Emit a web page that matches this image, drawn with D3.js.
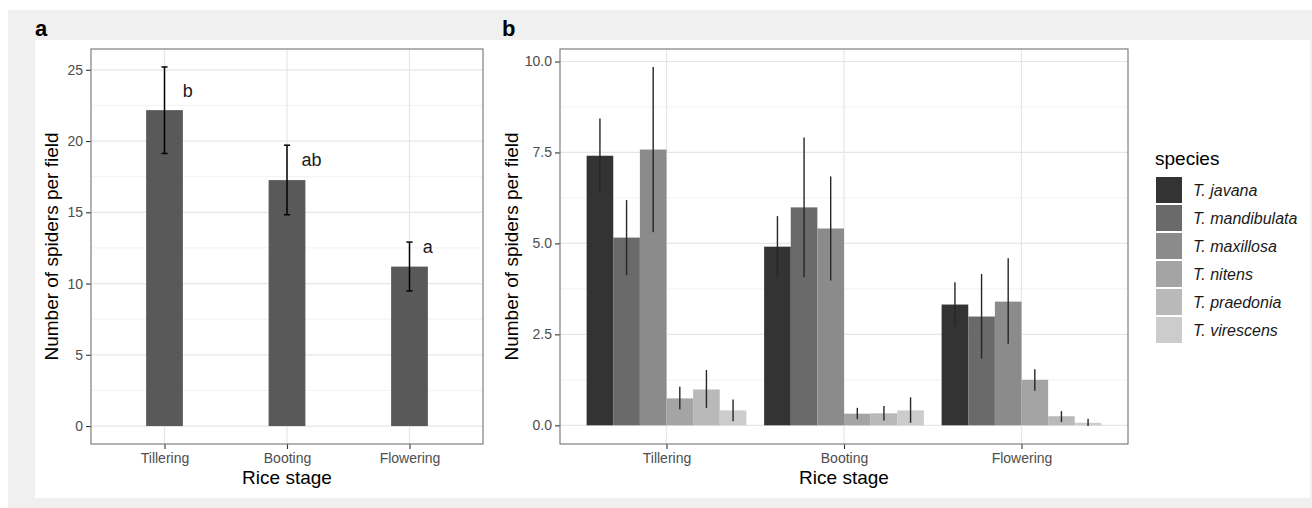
<!DOCTYPE html>
<html>
<head>
<meta charset="utf-8">
<script src="https://cdn.jsdelivr.net/npm/d3@7"></script>
<style>
  body { margin: 0; background: #fff; }
  svg { display: block; font-family: "Liberation Sans", Arial, sans-serif; }
</style>
</head>
<body>
<svg id="chart" width="1312" height="508"></svg>
<script>
// Rice stages (x categories, same for both panels)
const stages = ["Tillering", "Booting", "Flowering"];

// Panel a: total spiders per field, mean and error bar limits
const totalMean = [22.17, 17.26, 11.19];
const totalLow = [19.13, 14.83, 9.48];
const totalHigh = [25.2, 19.71, 12.91];
// significance letters, with their offset from the stage and baseline value
const sigLetters = ["b", "ab", "a"];
const sigDx = [0.19, 0.2, 0.15];
const sigY = [23.08, 18.24, 12.17];

// Panel b: spiders per species
const species = ["T. javana", "T. mandibulata", "T. maxillosa", "T. nitens", "T. praedonia", "T. virescens"];
const speciesColors = ["#333333", "#6a6a6a", "#8b8b8b", "#a4a4a4", "#b9b9b9", "#cccccc"];
// values per species, in stage order
const speciesMean = [
  [7.41, 4.91, 3.32],
  [5.16, 5.99, 2.99],
  [7.58, 5.41, 3.40],
  [0.74, 0.32, 1.25],
  [0.985, 0.33, 0.25],
  [0.41, 0.41, 0.07]
];
const speciesLow = [
  [6.39, 4.07, 2.72],
  [4.13, 4.07, 1.83],
  [5.31, 3.98, 2.24],
  [0.44, 0.17, 0.95],
  [0.48, 0.13, 0.09],
  [0.11, 0.07, -0.02]
];
const speciesHigh = [
  [8.43, 5.75, 3.93],
  [6.19, 7.91, 4.16],
  [9.85, 6.84, 4.59],
  [1.06, 0.48, 1.54],
  [1.52, 0.53, 0.39],
  [0.71, 0.77, 0.18]
];

const svg = d3.select("#chart");

// background frame like the source figure
svg.append("rect").attr("x", 8).attr("y", 10).attr("width", 1304).attr("height", 498).attr("fill", "#f0f0f0");
svg.append("rect").attr("x", 35).attr("y", 40).attr("width", 1275).attr("height", 458).attr("fill", "#fff");

svg.append("text").attr("x", 35).attr("y", 36).attr("font-size", 22).attr("font-weight", "bold").text("a");
svg.append("text").attr("x", 502).attr("y", 36).attr("font-size", 22).attr("font-weight", "bold").text("b");

// ggplot-like continuous range with 5% expansion
const expandRange = (lo, hi) => {
  const pad = (hi - lo) * 0.05;
  return [lo - pad, hi + pad];
};

const drawPanel = (opts) => {
  const { left, right, top, bottom, yDomain, majorTicks, minorTicks, fmt, titleX } = opts;
  const x = d3.scaleLinear().domain([0.4, stages.length + 0.6]).range([left, right]);
  const y = d3.scaleLinear().domain(yDomain).range([bottom, top]);
  const g = svg.append("g");

  // grid
  g.selectAll(".minor").data(minorTicks).enter().append("line")
    .attr("x1", left).attr("x2", right)
    .attr("y1", (d) => y(d)).attr("y2", (d) => y(d))
    .attr("stroke", "#f2f2f2").attr("stroke-width", 1);
  g.selectAll(".major").data(majorTicks).enter().append("line")
    .attr("x1", left).attr("x2", right)
    .attr("y1", (d) => y(d)).attr("y2", (d) => y(d))
    .attr("stroke", "#e6e6e6").attr("stroke-width", 1.2);
  g.selectAll(".vmajor").data(stages).enter().append("line")
    .attr("x1", (d, i) => x(i + 1)).attr("x2", (d, i) => x(i + 1))
    .attr("y1", top).attr("y2", bottom)
    .attr("stroke", "#e6e6e6").attr("stroke-width", 1.2);

  // axes
  const yAxis = d3.axisLeft(y).tickValues(majorTicks).tickFormat(fmt).tickSize(5).tickPadding(3);
  const ya = svg.append("g").attr("transform", `translate(${left},0)`).call(yAxis);
  const xAxis = d3.axisBottom(x).tickValues(stages.map((d, i) => i + 1))
    .tickFormat((d) => stages[d - 1]).tickSize(5).tickPadding(4);
  const xa = svg.append("g").attr("transform", `translate(0,${bottom})`).call(xAxis);
  [ya, xa].forEach((a) => {
    a.attr("font-family", null).attr("font-size", null);
    a.select(".domain").remove();
    a.selectAll("line").attr("stroke", "#333").attr("stroke-width", 1.1);
    a.selectAll("text").attr("fill", "#4d4d4d").attr("font-size", 14);
  });

  // axis titles
  svg.append("text")
    .attr("transform", `translate(${titleX},${(top + bottom) / 2}) rotate(-90)`)
    .attr("text-anchor", "middle").attr("dy", "0.35em").attr("font-size", 19)
    .text("Number of spiders per field");
  svg.append("text")
    .attr("x", (left + right) / 2).attr("y", 484)
    .attr("text-anchor", "middle").attr("font-size", 19)
    .text("Rice stage");

  return { x, y, g };
};

// ---- Panel a
const aDomain = expandRange(0, d3.max(totalHigh));
const pa = drawPanel({
  left: 91, right: 483, top: 49, bottom: 444,
  yDomain: aDomain,
  majorTicks: [0, 5, 10, 15, 20, 25],
  minorTicks: [2.5, 7.5, 12.5, 17.5, 22.5],
  fmt: d3.format("d"),
  titleX: 51
});
const barW = 0.3;
pa.g.selectAll(".bar").data(totalMean).enter().append("rect")
  .attr("x", (d, i) => pa.x(i + 1 - barW / 2))
  .attr("width", pa.x(barW) - pa.x(0))
  .attr("y", (d) => pa.y(d))
  .attr("height", (d) => pa.y(0) - pa.y(d))
  .attr("fill", "#595959");
const capW = 0.05;
stages.forEach((s, i) => {
  const cx = pa.x(i + 1);
  const half = (pa.x(capW) - pa.x(0)) / 2;
  pa.g.append("line").attr("x1", cx).attr("x2", cx)
    .attr("y1", pa.y(totalLow[i])).attr("y2", pa.y(totalHigh[i]))
    .attr("stroke", "#000").attr("stroke-width", 1.5);
  [totalLow[i], totalHigh[i]].forEach((v) => {
    pa.g.append("line").attr("x1", cx - half).attr("x2", cx + half)
      .attr("y1", pa.y(v)).attr("y2", pa.y(v))
      .attr("stroke", "#000").attr("stroke-width", 1.5);
  });
  pa.g.append("text").attr("x", pa.x(i + 1 + sigDx[i])).attr("y", pa.y(sigY[i]))
    .attr("text-anchor", "middle").attr("font-size", 18).attr("fill", "#1a1a1a")
    .text(sigLetters[i]);
});
svg.append("rect").attr("x", 91).attr("y", 49).attr("width", 392).attr("height", 395)
  .attr("fill", "none").attr("stroke", "#7f7f7f").attr("stroke-width", 1.2);

// ---- Panel b
const bDomain = expandRange(Math.min(0, d3.min(speciesLow.flat())), d3.max(speciesHigh.flat()));
const pb = drawPanel({
  left: 560, right: 1128, top: 49, bottom: 444,
  yDomain: bDomain,
  majorTicks: [0, 2.5, 5, 7.5, 10],
  minorTicks: [1.25, 3.75, 6.25, 8.75],
  fmt: d3.format(".1f"),
  titleX: 511
});
const dodgeW = 0.9;
const sub = d3.scaleBand().domain(species).range([-dodgeW / 2, dodgeW / 2]);
species.forEach((sp, k) => {
  stages.forEach((s, i) => {
    const x0 = i + 1 + sub(sp);
    pb.g.append("rect")
      .attr("x", pb.x(x0))
      .attr("width", pb.x(sub.bandwidth()) - pb.x(0))
      .attr("y", pb.y(speciesMean[k][i]))
      .attr("height", pb.y(0) - pb.y(speciesMean[k][i]))
      .attr("fill", speciesColors[k]);
  });
});
species.forEach((sp, k) => {
  stages.forEach((s, i) => {
    const cx = pb.x(i + 1 + sub(sp) + sub.bandwidth() / 2);
    pb.g.append("line").attr("x1", cx).attr("x2", cx)
      .attr("y1", pb.y(speciesLow[k][i])).attr("y2", pb.y(speciesHigh[k][i]))
      .attr("stroke", "#262626").attr("stroke-width", 1.4);
  });
});
svg.append("rect").attr("x", 560).attr("y", 49).attr("width", 568).attr("height", 395)
  .attr("fill", "none").attr("stroke", "#7f7f7f").attr("stroke-width", 1.2);

// ---- Legend
const legend = svg.append("g").attr("transform", "translate(1155,0)");
legend.append("text").attr("x", 0).attr("y", 165).attr("font-size", 19).text("species");
const rows = legend.selectAll(".row").data(species).enter().append("g")
  .attr("transform", (d, i) => `translate(0,${177 + i * 28})`);
rows.append("rect").attr("x", 1).attr("y", 0).attr("width", 26).attr("height", 26)
  .attr("fill", (d, i) => speciesColors[i]);
rows.append("text").attr("x", 38).attr("y", 13).attr("dy", "0.36em")
  .attr("font-size", 16).attr("font-style", "italic").attr("fill", "#1a1a1a")
  .text((d) => d);
</script>
</body>
</html>
